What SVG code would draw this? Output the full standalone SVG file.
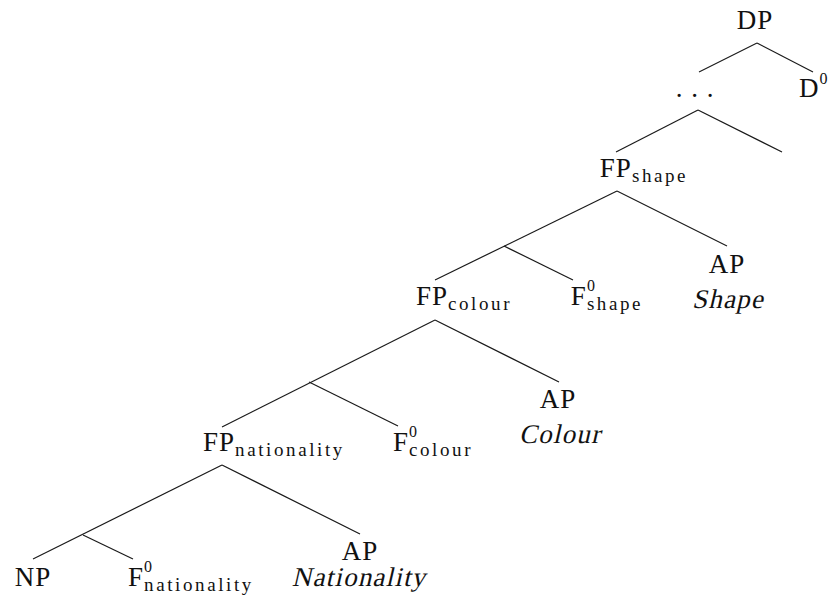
<svg xmlns="http://www.w3.org/2000/svg" width="829" height="603" viewBox="0 0 829 603">
<style>
  text { font-family: "Liberation Serif", "Times New Roman", serif; font-size: 27px; fill: #111; text-anchor: middle; letter-spacing: 1px; }
  .it { letter-spacing: 1.2px; }
  .sub { font-size: 19px; letter-spacing: 2.6px; }
  .sup { font-size: 16px; letter-spacing: 0px; }
  .edges line { stroke: #1a1a1a; stroke-width: 1.2; fill: none; }
</style>
<rect width="829" height="603" fill="#ffffff"/>
<g class="edges" id="connectors">
  <line x1="757" y1="43" x2="699" y2="72"/>
  <line x1="757" y1="43" x2="813" y2="72"/>
  <line x1="698" y1="110" x2="616" y2="152"/>
  <line x1="698" y1="110" x2="782" y2="152"/>
  <line x1="617" y1="191" x2="435" y2="280"/>
  <line x1="617" y1="191" x2="727" y2="246"/>
  <line x1="504" y1="246" x2="573" y2="280"/>
  <line x1="435" y1="320" x2="222" y2="427"/>
  <line x1="435" y1="320" x2="559" y2="382"/>
  <line x1="309" y1="382" x2="398" y2="426"/>
  <line x1="222" y1="465" x2="33" y2="559"/>
  <line x1="222" y1="465" x2="360" y2="534"/>
  <line x1="83" y1="535" x2="133" y2="559"/>
</g>
<g id="DP"><text x="755" y="29">DP</text></g>
<g id="dots"><text x="695" y="97">. . .</text></g>
<g id="D0"><text x="799" y="97" style="text-anchor:start">D<tspan class="sup" dy="-13">0</tspan></text></g>
<g id="FP_shape"><text x="644" y="177">FP<tspan class="sub" dy="5">shape</tspan></text></g>
<g id="FP_colour"><text x="464" y="305">FP<tspan class="sub" dy="5">colour</tspan></text></g>
<g id="F0_shape"><text x="607" y="305">F<tspan class="sup" dy="-14">0</tspan><tspan class="sub" dx="-8" dy="19">shape</tspan></text></g>
<g id="AP_shape"><text x="727" y="273">AP</text><text class="it" transform="translate(728,308) skewX(-13)">Shape</text></g>
<g id="FP_nationality"><text x="274" y="451">FP<tspan class="sub" dy="5">nationality</tspan></text></g>
<g id="F0_colour"><text x="433" y="451">F<tspan class="sup" dy="-14">0</tspan><tspan class="sub" dx="-8" dy="19">colour</tspan></text></g>
<g id="AP_colour"><text x="558" y="408">AP</text><text class="it" transform="translate(560,443) skewX(-13)">Colour</text></g>
<g id="NP"><text x="33" y="586">NP</text></g>
<g id="F0_nationality"><text x="191" y="586">F<tspan class="sup" dy="-14">0</tspan><tspan class="sub" dx="-8" dy="19">nationality</tspan></text></g>
<g id="AP_nationality"><text x="360" y="560">AP</text><text class="it" transform="translate(359,586) skewX(-13)">Nationality</text></g>
</svg>
